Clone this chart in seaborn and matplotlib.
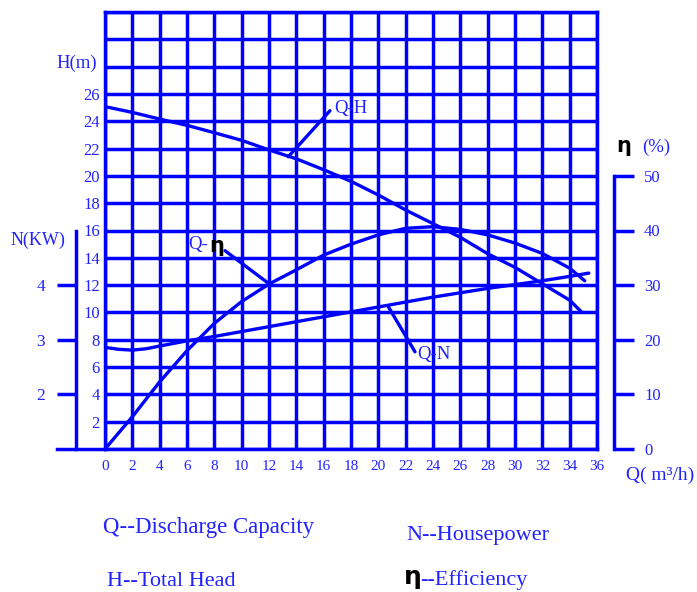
import matplotlib
matplotlib.use('Agg')
import matplotlib.pyplot as plt
import seaborn as sns

# ---- data ----
Q_H = [0, 2, 4, 6, 8, 10, 12, 14, 16, 18, 20, 22, 24, 26, 28, 30, 32, 34, 34.9]
H_VAL = [25.07, 24.65, 24.16, 23.7, 23.16, 22.6, 21.9, 21.25, 20.45, 19.6, 18.6, 17.5,
         16.5, 15.5, 14.3, 13.3, 12.1, 10.9, 10.0]

Q_N = [0, 1, 2, 3, 4, 6, 8, 10, 12, 14, 16, 18, 20, 22, 24, 26, 28, 30, 32, 34, 35.4]
N_VAL = [2.86, 2.825, 2.81, 2.835, 2.885, 2.98, 3.06, 3.15, 3.24, 3.33, 3.42, 3.51, 3.60,
         3.69, 3.78, 3.86, 3.94, 4.01, 4.08, 4.16, 4.22]

Q_EFF = [0, 2, 4, 6, 8, 10, 12, 14, 16, 18, 20, 22, 24, 26, 28, 30, 32, 34, 35.1]
EFF_VAL = [0.0, 5.9, 12.3, 18.0, 23.0, 27.0, 30.2, 32.8, 35.5, 37.5, 39.2, 40.4, 40.7,
           40.2, 39.2, 37.7, 35.8, 33.1, 30.8]

Q_TICKS = list(range(0, 37, 2))
Q_TICK_LABELS = [str(v) for v in Q_TICKS]
H_TICKS = list(range(0, 33, 2))
H_TICK_LABELS = [str(v) if 0 < v <= 26 else '' for v in H_TICKS]
N_TICKS = [2, 3, 4]
N_TICK_LABELS = ['2', '3', '4']
EFF_TICKS = [0, 10, 20, 30, 40, 50]
EFF_TICK_LABELS = [str(v) for v in EFF_TICKS]

sns.set_style('white')
plt.rcParams['font.family'] = ['Liberation Serif', 'DejaVu Serif']

W, HP = 697, 592
fig = plt.figure(figsize=(W / 100, HP / 100), dpi=100)


def fx(x):
    return x / W


def fy(y):
    return 1 - y / HP


BLUE = '#0000ff'
TXT = '#2222ff'
LW = 2.5
CLW = 2.4
PT = 0.72

# ---- main (H) axes with the grid ----
ax = fig.add_axes([fx(105), fy(449), (597 - 105) / W, (449 - 12) / HP])
ax.set_xlim(0, 36)
ax.set_ylim(0, 32)
ax.set_xticks(Q_TICKS)
ax.set_xticklabels(Q_TICK_LABELS)
ax.set_yticks(H_TICKS)
ax.set_yticklabels(H_TICK_LABELS)
ax.grid(True, color=BLUE, lw=LW)
ax.tick_params(length=0, labelcolor=TXT)
ax.tick_params(axis='x', pad=11 * PT, labelsize=11)
ax.tick_params(axis='y', pad=5 * PT, labelsize=12)
for s in ax.spines.values():
    s.set_visible(True)
    s.set_color(BLUE)
    s.set_linewidth(LW)

sns.lineplot(x=Q_H, y=H_VAL, ax=ax, color=BLUE, lw=CLW)
ax.set_xlabel('')
ax.set_ylabel('')

# ---- N axis (left, offset) ----
axN = ax.twinx()
axN.set_ylim(1, 9)
sns.lineplot(x=Q_N, y=N_VAL, ax=axN, color=BLUE, lw=CLW)
for name, s in axN.spines.items():
    s.set_visible(name == 'left')
axN.spines['left'].set_position(('axes', -29 / 492))
axN.spines['left'].set_bounds(1, 5)
axN.spines['left'].set_color(BLUE)
axN.spines['left'].set_linewidth(LW)
axN.yaxis.set_ticks_position('left')
axN.yaxis.set_label_position('left')
axN.set_yticks(N_TICKS)
axN.set_yticklabels(N_TICK_LABELS)
axN.tick_params(axis='y', direction='out', length=19 * PT, width=LW, color=BLUE,
                labelcolor=TXT, labelsize=12.5, pad=12 * PT)
axN.set_ylabel('')
axN.plot([-48 / 492, 0], [0, 0], transform=axN.transAxes, clip_on=False,
         color=BLUE, lw=LW, solid_capstyle='projecting')

# ---- efficiency axis (right, offset) ----
axE = ax.twinx()
axE.set_ylim(0, 80)
sns.lineplot(x=Q_EFF, y=EFF_VAL, ax=axE, color=BLUE, lw=CLW)
for name, s in axE.spines.items():
    s.set_visible(name == 'right')
axE.spines['right'].set_position(('axes', (614 - 105) / 492))
axE.spines['right'].set_bounds(0, 50)
axE.spines['right'].set_color(BLUE)
axE.spines['right'].set_linewidth(LW)
axE.yaxis.set_ticks_position('right')
axE.set_yticks(EFF_TICKS)
axE.set_yticklabels(EFF_TICK_LABELS)
axE.tick_params(axis='y', direction='out', length=20 * PT, width=LW, color=BLUE,
                labelcolor=TXT, labelsize=12, pad=10 * PT)
axE.set_ylabel('')

# ---- pointer lines (in H-axis data coords) ----
ax.plot([13.41, 16.46], [21.4, 24.77], color=BLUE, lw=CLW)
ax.plot([8.78, 11.95], [14.52, 12.14], color=BLUE, lw=CLW)
ax.plot([20.73, 22.68], [10.42, 7.12], color=BLUE, lw=CLW)

# ---- texts ----
eta_kw = dict(color='black', fontweight='bold', family=['DejaVu Sans'])
fig.text(fx(56), fy(63), 'H(m)', va='center', ha='left', fontsize=13.5, color=TXT)
fig.text(fx(11), fy(240), 'N(KW)', va='center', ha='left', fontsize=13, color=TXT)
fig.text(fx(334), fy(108), 'Q-H', va='center', ha='left', fontsize=13.5, color=TXT)
fig.text(fx(188), fy(245), 'Q-', va='center', ha='left', fontsize=13.5, color=TXT)
fig.text(fx(209), fy(246), 'η', va='center', ha='left', fontsize=15, **eta_kw)
fig.text(fx(417), fy(354), 'Q-N', va='center', ha='left', fontsize=13.5, color=TXT)
fig.text(fx(616), fy(146), 'η', va='center', ha='left', fontsize=15, **eta_kw)
fig.text(fx(642), fy(147), '(%)', va='center', ha='left', fontsize=13.5, color=TXT)
fig.text(fx(626), fy(475), 'Q( m³/h)', va='center', ha='left', fontsize=14, color=TXT)

fig.text(fx(103), fy(533), 'Q--Discharge Capacity', va='baseline', ha='left',
         fontsize=16.5, color=TXT)
fig.text(fx(406), fy(540), 'N--Housepower', va='baseline', ha='left',
         fontsize=16, color=TXT)
fig.text(fx(107), fy(586), 'H--Total Head', va='baseline', ha='left',
         fontsize=16, color=TXT)
fig.text(fx(404), fy(584), 'η', va='baseline', ha='left', fontsize=18, **eta_kw)
fig.text(fx(420), fy(585), '--Efficiency', va='baseline', ha='left',
         fontsize=16, color=TXT)

fig.savefig('out.png', dpi=100)
